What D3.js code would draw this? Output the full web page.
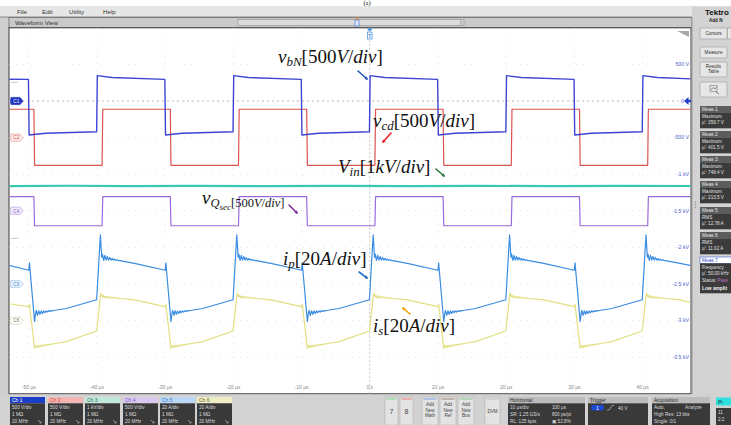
<!DOCTYPE html>
<html>
<head>
<meta charset="utf-8">
<script src="https://cdn.jsdelivr.net/npm/d3@7"></script>
<style>
  html, body { margin: 0; padding: 0; background: #ffffff; }
  svg { display: block; }
  text { font-family: "Liberation Sans", "DejaVu Sans", sans-serif; }
  .math { font-family: "Liberation Serif", "DejaVu Serif", serif; fill: #111; }
</style>
</head>
<body>
<svg id="scope" width="731" height="425"></svg>
<script>
// ---- Axis ticks and labels ----
const timeTicks = [-50, -40, -30, -20, -10, 0, 10, 20, 30, 40];            // µs
const timeTickLabels = ["-50 µs", "-40 µs", "-30 µs", "-20 µs", "-10 µs", "0 s", "10 µs", "20 µs", "30 µs", "40 µs"];
const voltTicks = [500, 0, -500, -1000, -1500, -2000, -2500, -3000, -3500]; // Ch 1 volts
const voltTickLabels = ["500 V", "0", "-500 V", "-1 kV", "-1.5 kV", "-2 kV", "-2.5 kV", "-3 kV", "-3.5 kV"];

// ---- Channel settings ----
const channelNames = ["Ch 1", "Ch 2", "Ch 3", "Ch 4", "Ch 5", "Ch 6"];
const channelScaleText = ["500 V/div", "500 V/div", "1 kV/div", "500 V/div", "20 A/div", "20 A/div"];
const unitsPerDiv = [500, 500, 1000, 500, 20, 20];
const offsetDiv = [3, 2, 0, 0, -2, -3];
const traceColors = ["#3d44d2", "#dc5252", "#36c8b0", "#9a6adc", "#3a8ce0", "#e2df80"];

// ---- Waveforms: [time µs, value] (V for Ch1-4, A for Ch5-6) ----
const vbN = [
  [-52.9, 298], [-50.05, 296],
  [-49.95, -464], [-47.5, -440], [-40.05, -420],
  [-39.95, 346], [-37.8, 321], [-30.05, 296],
  [-29.95, -464], [-27.5, -440], [-20.05, -420],
  [-19.95, 346], [-17.8, 321], [-10.05, 296],
  [-9.95, -464], [-7.5, -440], [-0.05, -420],
  [0.05, 346], [2.2, 321], [9.95, 296],
  [10.05, -464], [12.5, -440], [19.95, -420],
  [20.05, 346], [22.2, 321], [29.95, 296],
  [30.05, -464], [32.5, -440], [39.95, -420],
  [40.05, 346], [42.2, 321], [47.1, 302]
];
const vcd = [
  [-52.9, 387], [-49.25, 387], [-49.15, -379], [-39.25, -379],
  [-39.15, 387], [-29.25, 387], [-29.15, -379], [-19.25, -379],
  [-19.15, 387], [-9.25, 387], [-9.15, -379], [0.75, -379],
  [0.85, 387], [10.75, 387], [10.85, -379], [20.75, -379],
  [20.85, 387], [30.75, 387], [30.85, -379], [40.75, -379],
  [40.85, 387], [47.1, 387]
];
const vin = [
  [-52.9, 676], [-44, 684], [-35, 672], [-26, 682], [-15, 674],
  [-5, 683], [6, 672], [16, 681], [27, 674], [37, 683], [47.1, 677]
];
const vQsec = [
  [-52.9, 193], [-49.25, 193], [-49.15, -204], [-39.25, -204],
  [-39.15, 193], [-29.25, 193], [-29.15, -204], [-19.25, -204],
  [-19.15, 193], [-9.25, 193], [-9.15, -204], [0.75, -204],
  [0.85, 193], [10.75, 193], [10.85, -204], [20.75, -204],
  [20.85, 193], [30.75, 193], [30.85, -204], [40.75, -204],
  [40.85, 193], [47.1, 193]
];
// third entry = ringing gain after a switching edge
const ip = [
  [-52.9, 10.2], [-50.0, 7.5], [-49.9, 11.5], [-49.15, -20.6], [-49.0, -16, 1], [-44.5, -13.4], [-40.05, -8.6],
  [-39.5, 26.8], [-39.3, 14.6, 1.2], [-34.5, 11.3], [-30.0, 7.5], [-29.9, 11.5], [-29.15, -20.6], [-29.0, -16, 1], [-24.5, -13.4], [-20.05, -8.6],
  [-19.5, 26.8], [-19.3, 14.6, 1.2], [-14.5, 11.3], [-10.0, 7.5], [-9.9, 11.5], [-9.15, -20.6], [-9.0, -16, 1], [-4.5, -13.4], [-0.05, -8.6],
  [0.5, 26.8], [0.7, 14.6, 1.2], [5.5, 11.3], [10.0, 7.5], [10.1, 11.5], [10.85, -20.6], [11.0, -16, 1], [15.5, -13.4], [19.95, -8.6],
  [20.5, 26.8], [20.7, 14.6, 1.2], [25.5, 11.3], [30.0, 7.5], [30.1, 11.5], [30.85, -20.6], [31.0, -16, 1], [35.5, -13.4], [39.95, -8.6],
  [40.5, 26.8], [40.7, 14.6, 1.2], [45.5, 11.3], [47.1, 10.0]
];
const is = [
  [-52.9, 9.2], [-50.0, 7.6], [-49.9, 8.8], [-49.15, -15.2], [-49.0, -14.3, 0.5], [-44.5, -11.5], [-40.05, -5.7],
  [-39.45, 14.9], [-39.2, 13.1, 0.5], [-34.5, 11.3], [-30.0, 7.6], [-29.9, 8.8], [-29.15, -15.2], [-29.0, -14.3, 0.5], [-24.5, -11.5], [-20.05, -5.7],
  [-19.45, 14.9], [-19.2, 13.1, 0.5], [-14.5, 11.3], [-10.0, 7.6], [-9.9, 8.8], [-9.15, -15.2], [-9.0, -14.3, 0.5], [-4.5, -11.5], [-0.05, -5.7],
  [0.55, 14.9], [0.8, 13.1, 0.5], [5.5, 11.3], [10.0, 7.6], [10.1, 8.8], [10.85, -15.2], [11.0, -14.3, 0.5], [15.5, -11.5], [19.95, -5.7],
  [20.55, 14.9], [20.8, 13.1, 0.5], [25.5, 11.3], [30.0, 7.6], [30.1, 8.8], [30.85, -15.2], [31.0, -14.3, 0.5], [35.5, -11.5], [39.95, -5.7],
  [40.55, 14.9], [40.8, 13.1, 0.5], [45.5, 11.3], [47.1, 9.8]
];
// damped ringing seen after each current edge: [dt µs, amps]
const ringProfile = [
  [0.1, 1.5], [0.28, -1.3], [0.46, 1.1], [0.64, -0.95], [0.82, 0.8], [1.0, -0.7],
  [1.18, 0.6], [1.36, -0.5], [1.54, 0.42], [1.72, -0.35], [1.9, 0.28], [2.08, -0.2],
  [2.26, 0.15], [2.44, -0.1], [2.65, 0]
];
const traces = [vbN, vcd, vin, vQsec, ip, is];

// ---- Measurement panel ----
const measNames = ["Meas 1", "Meas 2", "Meas 3", "Meas 4", "Meas 5", "Meas 6", "Meas 7"];
const measTypes = ["Maximum", "Maximum", "Maximum", "Maximum", "RMS", "RMS", "Frequency"];
const measValues = ["µ': 359.7 V", "µ': 401.5 V", "µ': 748.4 V", "µ': 213.5 V", "µ': 12.78 A", "µ': 11.02 A", "µ': 50.00 kHz"];

// ---- Layout ----
const svg = d3.select("#scope");
const P = { l: 9, r: 691, t: 27.8, b: 393.8 };
const x = d3.scaleLinear().domain([-52.9, 47.1]).range([P.l, P.r]);
const yDiv = d3.scaleLinear().domain([5, -5]).range([P.t, P.b]);
const yCh = unitsPerDiv.map((u, i) =>
  d3.scaleLinear().domain([(-5 - offsetDiv[i]) * u, (5 - offsetDiv[i]) * u]).range([P.b, P.t]));

// frame background
svg.append("rect").attr("width", 731).attr("height", 425).attr("fill", "#cfcfcf");
svg.append("rect").attr("x", 0).attr("y", 0).attr("width", 731).attr("height", 6.5).attr("fill", "#ffffff");
svg.append("text").attr("class", "math").attr("x", 367).attr("y", 5.4)
  .attr("text-anchor", "middle").attr("font-size", 6.5).text("(a)");

// menu bar
svg.append("rect").attr("x", 0).attr("y", 6.5).attr("width", 731).attr("height", 10.5).attr("fill", "#e6e6e6");
svg.append("line").attr("x1", 0).attr("x2", 692).attr("y1", 17).attr("y2", 17).attr("stroke", "#8a8a8a");
[["File", 17], ["Edit", 42], ["Utility", 69], ["Help", 103]].forEach(([t, px]) =>
  svg.append("text").attr("x", px).attr("y", 14).attr("font-size", 6.2).attr("fill", "#333").text(t));

// waveform view bar
svg.append("rect").attr("x", 9).attr("y", 17.5).attr("width", 683).attr("height", 10.3)
  .attr("fill", "#c9c9c9").attr("stroke", "#6a6a6a").attr("stroke-width", 0.8);
svg.append("text").attr("x", 15).attr("y", 24.6).attr("font-size", 6.2).attr("fill", "#333").text("Waveform View");
svg.append("rect").attr("x", 238).attr("y", 19.5).attr("width", 226).attr("height", 6)
  .attr("fill", "#dcdcdc").attr("stroke", "#8c8c8c").attr("stroke-width", 0.6);
[460.5, 462].forEach(px => svg.append("line").attr("x1", px).attr("x2", px).attr("y1", 20).attr("y2", 25)
  .attr("stroke", "#888").attr("stroke-width", 0.5));
svg.append("path").attr("d", "M354.5,17.8 L359.5,17.8 L357,20 Z").attr("fill", "#f0a040");
svg.append("rect").attr("x", 355).attr("y", 20).attr("width", 4).attr("height", 6)
  .attr("fill", "#dfe8f8").attr("stroke", "#3a6ad0").attr("stroke-width", 0.6);

// plot area
svg.append("rect").attr("x", P.l).attr("y", P.t).attr("width", P.r - P.l).attr("height", P.b - P.t)
  .attr("fill", "#ffffff").attr("stroke", "#3a3a3a").attr("stroke-width", 1);

svg.append("clipPath").attr("id", "plotClip").append("rect")
  .attr("x", P.l + 0.5).attr("y", P.t + 0.5).attr("width", P.r - P.l - 1).attr("height", P.b - P.t - 1);

const grid = svg.append("g");
// graticule: dotted division lines
timeTicks.forEach(t => grid.append("line").attr("x1", x(t)).attr("x2", x(t)).attr("y1", P.t).attr("y2", P.b)
  .attr("stroke", t === 0 ? "#b8b8b8" : "#dadada").attr("stroke-width", 0.8)
  .attr("stroke-dasharray", t === 0 ? "2,2" : "1,6"));
d3.range(-4, 5).forEach(d => grid.append("line").attr("x1", P.l).attr("x2", P.r).attr("y1", yDiv(d)).attr("y2", yDiv(d))
  .attr("stroke", "#dadada").attr("stroke-width", 0.8).attr("stroke-dasharray", "1,6"));
// Ch1 ground reference
grid.append("line").attr("x1", 22).attr("x2", 682).attr("y1", yCh[0](0)).attr("y2", yCh[0](0))
  .attr("stroke", "#b0b0b0").attr("stroke-width", 0.8).attr("stroke-dasharray", "2,3");

// time labels
timeTicks.forEach((t, i) => svg.append("text").attr("x", x(t)).attr("y", 389)
  .attr("text-anchor", "middle").attr("font-size", 5).attr("fill", "#8a8a8a").text(timeTickLabels[i]));

// Ch1 voltage labels on the right
voltTicks.forEach((v, i) => svg.append("text").attr("x", v === 0 ? 684 : 689).attr("y", yCh[0](v) + 1.8)
  .attr("text-anchor", "end").attr("font-size", 5.2).attr("fill", "#4f5fd0").text(voltTickLabels[i]));
svg.append("path").attr("d", `M684,${yCh[0](0)} L688.5,${yCh[0](0) - 4} L688.5,${yCh[0](0) - 1.3} L691,${yCh[0](0) - 1.3} L691,${yCh[0](0) + 1.3} L688.5,${yCh[0](0) + 1.3} L688.5,${yCh[0](0) + 4} Z`)
  .attr("fill", "#2040c8");

// corner flag and trigger marker
svg.append("path").attr("d", "M677,31 L689,31 L689,37 Z").attr("fill", "#a8a8a8");
svg.append("path").attr("d", `M${x(0) - 3},28.5 L${x(0) + 3},28.5 L${x(0)},31.5 Z`).attr("fill", "#2f8fe0");
svg.append("rect").attr("x", x(0) - 2.3).attr("y", 32).attr("width", 4.6).attr("height", 7)
  .attr("fill", "#e8f1fc").attr("stroke", "#2f7fd8").attr("stroke-width", 0.6);
svg.append("text").attr("x", x(0)).attr("y", 37.8).attr("text-anchor", "middle").attr("font-size", 5)
  .attr("fill", "#2f6fc8").text("T");

// traces
function withRinging(pts) {
  const out = [];
  pts.forEach((p, i) => {
    out.push([p[0], p[1]]);
    if (p[2]) {
      const nx = pts[i + 1];
      const slope = (nx[1] - p[1]) / (nx[0] - p[0]);
      ringProfile.forEach(([dt, dv]) => out.push([p[0] + dt, p[1] + slope * dt + dv * p[2]]));
    }
  });
  return out;
}
const traceLayer = svg.append("g").attr("clip-path", "url(#plotClip)");
const drawOrder = [2, 5, 4, 3, 1, 0];
const widths = [1.4, 1.2, 2.2, 1.2, 1.2, 1.2];
drawOrder.forEach(i => {
  const line = d3.line().x(d => x(d[0])).y(d => yCh[i](d[1]));
  traceLayer.append("path").attr("d", line(withRinging(traces[i])))
    .attr("fill", "none").attr("stroke", traceColors[i]).attr("stroke-width", widths[i])
    .attr("stroke-linejoin", "round");
});

// channel position markers on the left edge
const markerStyle = [
  { ch: 0, label: "C1", fill: "#1f33bf", stroke: "#1f33bf", text: "#ffffff" },
  { ch: 1, label: "C2", fill: "#fdeaea", stroke: "#e9a4a0", text: "#d05050" },
  { ch: 3, label: "C4", fill: "#f1ebfc", stroke: "#b9a2e6", text: "#8060c0" },
  { ch: 4, label: "C5", fill: "#eaf3fd", stroke: "#9fc3ec", text: "#4a86d0" },
  { ch: 5, label: "C6", fill: "#ffffff", stroke: "#d6d6b0", text: "#707050" }
];
markerStyle.forEach(m => {
  const yy = yCh[m.ch](0);
  svg.append("path").attr("d", `M11,${yy - 3.6} L20,${yy - 3.6} L23,${yy} L20,${yy + 3.6} L11,${yy + 3.6} Q10,${yy} 11,${yy - 3.6} Z`)
    .attr("fill", m.fill).attr("stroke", m.stroke).attr("stroke-width", 0.7);
  svg.append("text").attr("x", 16.3).attr("y", yy + 1.7).attr("text-anchor", "middle")
    .attr("font-size", 4.6).attr("fill", m.text).text(m.label);
});
[82.3, 238.3].forEach(yy => svg.append("line").attr("x1", 11).attr("x2", 18).attr("y1", yy).attr("y2", yy)
  .attr("stroke", "#b8b8b8").attr("stroke-width", 0.8));

// ---- annotations ----
function mathLabel(px, py, parts) {
  const t = svg.append("text").attr("class", "math").attr("x", px).attr("y", py);
  let shift = 0;
  parts.forEach(p => {
    const s = t.append("tspan").attr("font-size", p.size).attr("dy", (p.dy || 0) - shift).text(p.text);
    if (p.it) s.attr("font-style", "italic");
    shift = p.dy || 0;
  });
}
const F = 19, FS = 13;
function unitLabel(px, py, main, sub, num, unit) {
  mathLabel(px, py, [
    { text: main, size: F, it: true }, { text: sub, size: FS, it: true, dy: 3.2 },
    { text: "[" + num, size: F }, { text: unit, size: F, it: true }, { text: "/", size: F },
    { text: "div", size: F, it: true }, { text: "]", size: F }
  ]);
}
unitLabel(278, 63, "v", "bN", "500", "V");
unitLabel(373, 127, "v", "cd", "500", "V");
unitLabel(338, 173, "V", "in", "1", "kV");
unitLabel(283, 265, "i", "p", "20", "A");
unitLabel(373, 332, "i", "s", "20", "A");
mathLabel(202, 204, [
  { text: "v", size: 19, it: true }, { text: "Q", size: 12.5, it: true, dy: 3 },
  { text: "sec", size: 9, it: true, dy: 5.5 }, { text: "[500", size: 12.5, dy: 3 },
  { text: "V", size: 12.5, it: true, dy: 3 }, { text: "/", size: 12.5, dy: 3 },
  { text: "div", size: 12.5, it: true, dy: 3 }, { text: "]", size: 12.5, dy: 3 }
]);

// pointer arrows (from, to, colour)
const arrows = [
  [[358, 71], [367, 79], "#2a55b8"],
  [[391, 133], [383, 142], "#e3242b"],
  [[436, 169], [444, 176], "#2c7a3c"],
  [[289, 205], [297, 213], "#7a2f9c"],
  [[359, 272], [367, 278], "#2a70c4"],
  [[410, 314], [403, 308], "#f2a000"]
];
arrows.forEach(([a, b, c]) => {
  svg.append("line").attr("x1", a[0]).attr("y1", a[1]).attr("x2", b[0]).attr("y2", b[1])
    .attr("stroke", c).attr("stroke-width", 1.6).attr("stroke-linecap", "round");
  const ang = Math.atan2(b[1] - a[1], b[0] - a[0]);
  const hx = b[0] + Math.cos(ang) * 1.2, hy = b[1] + Math.sin(ang) * 1.2;
  const l = 3.2, w = 1.8;
  const bx = hx - Math.cos(ang) * l, by = hy - Math.sin(ang) * l;
  svg.append("path").attr("d",
    `M${hx},${hy} L${bx - Math.sin(ang) * w},${by + Math.cos(ang) * w} L${bx + Math.sin(ang) * w},${by - Math.cos(ang) * w} Z`)
    .attr("fill", c);
});

// ---- right side panel ----
const rp = svg.append("g");
rp.append("rect").attr("x", 692).attr("y", 6.5).attr("width", 39).attr("height", 388).attr("fill", "#d3d3d3");
rp.append("line").attr("x1", 692).attr("x2", 692).attr("y1", 17).attr("y2", 394).attr("stroke", "#9a9a9a");
rp.append("text").attr("x", 705).attr("y", 14.5).attr("font-size", 8).attr("font-weight", "bold").attr("fill", "#111").text("Tektro");
rp.append("text").attr("x", 709).attr("y", 21.5).attr("font-size", 4.6).attr("font-weight", "bold").attr("fill", "#222").text("Add N");
[[28, 11, ["Cursors"]], [47, 11, ["Measure"]], [62, 15, ["Results", "Table"]]].forEach(([yy, h, lines]) => {
  rp.append("rect").attr("x", 700).attr("y", yy).attr("width", 27).attr("height", h).attr("rx", 1)
    .attr("fill", "#e6e6e6").attr("stroke", "#9c9c9c").attr("stroke-width", 0.6);
  lines.forEach((s, k) => rp.append("text").attr("x", 713.5).attr("y", yy + (lines.length === 1 ? 7.3 : 6.2 + k * 5.2))
    .attr("text-anchor", "middle").attr("font-size", 4.6).attr("fill", "#333").text(s));
});
rp.append("rect").attr("x", 727.5).attr("y", 28).attr("width", 6).attr("height", 11).attr("fill", "#e6e6e6").attr("stroke", "#9c9c9c").attr("stroke-width", 0.6);
rp.append("rect").attr("x", 700).attr("y", 82).attr("width", 27).attr("height", 15).attr("rx", 1)
  .attr("fill", "#e6e6e6").attr("stroke", "#9c9c9c").attr("stroke-width", 0.6);
rp.append("rect").attr("x", 710).attr("y", 85.5).attr("width", 7).attr("height", 6).attr("fill", "none").attr("stroke", "#777").attr("stroke-width", 0.6);
rp.append("path").attr("d", "M711,90 L713,87.5 L715,89 L716.5,87").attr("fill", "none").attr("stroke", "#555").attr("stroke-width", 0.6);
rp.append("path").attr("d", "M716,92 L719,94").attr("stroke", "#555").attr("stroke-width", 0.8);

const measTop = [106, 131, 156, 181, 207, 232, 257];
measNames.forEach((m, i) => {
  const t0 = measTop[i];
  const last = i === 6;
  const bodyH = last ? 30 : 16;
  rp.append("rect").attr("x", 700).attr("y", t0).attr("width", 36).attr("height", 6.3)
    .attr("fill", last ? "#ffffff" : "#5c5c5c").attr("stroke", last ? "#3f5fd8" : "none").attr("stroke-width", 0.6);
  rp.append("text").attr("x", 702).attr("y", t0 + 5).attr("font-size", 4.8)
    .attr("fill", last ? "#2c48c8" : "#e8e8e8").text(m);
  rp.append("rect").attr("x", 700).attr("y", t0 + 6.3).attr("width", 36).attr("height", bodyH).attr("fill", "#3b3b3b");
  rp.append("text").attr("x", 702).attr("y", t0 + 11.6).attr("font-size", 4.6).attr("fill", "#e0e0e0").text(measTypes[i]);
  rp.append("text").attr("x", 702).attr("y", t0 + 18.4).attr("font-size", 4.6).attr("fill", "#e0e0e0").text(measValues[i]);
  if (last) {
    const st = rp.append("text").attr("x", 702).attr("y", t0 + 25).attr("font-size", 4.6).attr("fill", "#e0e0e0");
    st.append("tspan").text("Status: ");
    st.append("tspan").attr("fill", "#c070d0").text("Pass");
    rp.append("text").attr("x", 702).attr("y", t0 + 32.5).attr("font-size", 4.8).attr("font-weight", "bold")
      .attr("fill", "#f2f2f2").text("Low amplit");
  }
});
[202, 204.5, 207].forEach(yy => rp.append("circle").attr("cx", 695.5).attr("cy", yy).attr("r", 0.55).attr("fill", "#666"));

// ---- bottom status bar ----
const bb = svg.append("g");
bb.append("rect").attr("x", 0).attr("y", 394.5).attr("width", 731).attr("height", 31).attr("fill", "#d2d2d2");
const chanHeadFill = ["#1b3ec6", "#f3b6b2", "#c2e7db", "#d8c9ef", "#bbd7f3", "#eeeec3"];
const chanHeadText = ["#ffffff", "#d84a44", "#2b6a58", "#7856c0", "#3a78c8", "#66662e"];
const chanX = [10, 48, 85, 123, 160, 197];
channelNames.forEach((c, i) => {
  const x0 = chanX[i];
  bb.append("rect").attr("x", x0).attr("y", 397).attr("width", 35).attr("height", 6.3).attr("fill", chanHeadFill[i]);
  bb.append("text").attr("x", x0 + 2).attr("y", 402).attr("font-size", 5).attr("fill", chanHeadText[i]).text(c);
  bb.append("rect").attr("x", x0).attr("y", 403.3).attr("width", 35).attr("height", 22).attr("fill", "#393939");
  [channelScaleText[i], "1 MΩ", "20 MHz"].forEach((s, k) => bb.append("text").attr("x", x0 + 2).attr("y", 409 + k * 7)
    .attr("font-size", 4.7).attr("fill", "#dcdcdc").text(s));
  bb.append("path").attr("d", `M${x0 + 28},${420} L${x0 + 31},${423} M${x0 + 29.5},${423} L${x0 + 31},${423} L${x0 + 31},${421.5}`)
    .attr("stroke", "#cfcfcf").attr("stroke-width", 0.6).attr("fill", "none");
});

const buttons = [
  { x: 385, w: 13, stripe: "#7fd08a", lines: ["7"], big: true },
  { x: 400, w: 13, stripe: "#ef7a7a", lines: ["8"], big: true },
  { x: 422, w: 16, stripe: "#7f9ee8", lines: ["Add", "New", "Math"] },
  { x: 440, w: 16, stripe: "#9a8a7a", lines: ["Add", "New", "Ref"] },
  { x: 458, w: 16, stripe: "#8fc88f", lines: ["Add", "New", "Bus"] },
  { x: 485, w: 15, stripe: "#bdbdbd", lines: ["DVM"] }
];
buttons.forEach(b => {
  bb.append("rect").attr("x", b.x).attr("y", 397).attr("width", b.w).attr("height", 28).attr("fill", "#e3e3e3")
    .attr("stroke", "#a8a8a8").attr("stroke-width", 0.5);
  bb.append("rect").attr("x", b.x + 1.5).attr("y", 398.5).attr("width", b.w - 3).attr("height", 1).attr("fill", b.stripe);
  b.lines.forEach((s, k) => bb.append("text").attr("x", b.x + b.w / 2)
    .attr("y", b.big ? 414 : (b.lines.length === 1 ? 413 : 406 + k * 5.5))
    .attr("text-anchor", "middle").attr("font-size", b.big ? 7 : 4.6).attr("fill", "#444").text(s));
});

const panels = [
  { x: 508, w: 77, title: "Horizontal", rows: [["10 µs/div", "100 µs"], ["SR: 1.25 GS/s", "800 ps/pt"], ["RL: 125 kpts", "▣ 52.8%"]] },
  { x: 588, w: 60, title: "Trigger", rows: [] },
  { x: 652, w: 58, title: "Acquisition", rows: [["Auto,", "Analyze"], ["High Res: 13 bits", ""], ["Single: 0/1", ""]] }
];
panels.forEach(p => {
  bb.append("rect").attr("x", p.x).attr("y", 397).attr("width", p.w).attr("height", 6.3).attr("fill", "#bcbcbc");
  bb.append("text").attr("x", p.x + 2).attr("y", 402).attr("font-size", 5).attr("fill", "#2a2a2a").text(p.title);
  bb.append("rect").attr("x", p.x).attr("y", 403.3).attr("width", p.w).attr("height", 22).attr("fill", "#393939");
  p.rows.forEach((r, k) => {
    bb.append("text").attr("x", p.x + 2).attr("y", 409 + k * 7).attr("font-size", 4.7).attr("fill", "#dcdcdc").text(r[0]);
    bb.append("text").attr("x", p.x + p.w * 0.57).attr("y", 409 + k * 7).attr("font-size", 4.7).attr("fill", "#dcdcdc").text(r[1]);
  });
});
bb.append("rect").attr("x", 591).attr("y", 405).attr("width", 13).attr("height", 5.5).attr("rx", 2.5).attr("fill", "#1f48d0");
bb.append("text").attr("x", 597.5).attr("y", 409.5).attr("text-anchor", "middle").attr("font-size", 4.6).attr("fill", "#fff").text("1");
bb.append("path").attr("d", "M607,410 L609,410 L612,405.5 L614,405.5").attr("fill", "none").attr("stroke", "#cfcfcf").attr("stroke-width", 0.6);
bb.append("text").attr("x", 618).attr("y", 409.5).attr("font-size", 4.7).attr("fill", "#dcdcdc").text("40 V");
bb.append("rect").attr("x", 716).attr("y", 397.5).attr("width", 16).attr("height", 8).attr("fill", "#2fe0df");
bb.append("text").attr("x", 718).attr("y", 403.5).attr("font-size", 5).attr("fill", "#1a3a3a").text("Pr");
bb.append("rect").attr("x", 716).attr("y", 408).attr("width", 16).attr("height", 17).attr("fill", "#3a3a3a");
bb.append("text").attr("x", 718).attr("y", 414).attr("font-size", 4.6).attr("fill", "#ddd").text("11");
bb.append("text").attr("x", 718).attr("y", 420.5).attr("font-size", 4.6).attr("fill", "#ddd").text("2:2");
</script>
</body>
</html>
